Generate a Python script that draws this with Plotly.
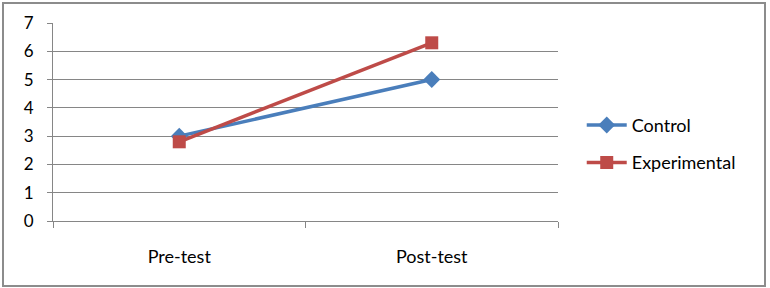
import plotly.graph_objects as go

categories = ["Pre-test", "Post-test"]
control = [3.0, 5.0]
experimental = [2.8, 6.3]
y_ticks = [0, 1, 2, 3, 4, 5, 6, 7]

FONT = "Lato, Carlito, Calibri, sans-serif"
FS = 18

fig = go.Figure()
fig.add_trace(go.Scatter(
    x=[0, 1], y=control, mode="lines+markers", name="Control",
    line=dict(color="#4A7EBB", width=3.5),
    marker=dict(symbol="diamond", size=13, color="#4A7EBB"),
    legendgroup="a",
))
fig.add_trace(go.Scatter(
    x=[0, 1], y=experimental, mode="lines+markers", name="Experimental",
    line=dict(color="#BE4B48", width=3.5),
    marker=dict(symbol="square", size=13, color="#BE4B48"),
    legendgroup="b",
))

fig.update_layout(
    width=770, height=288,
    margin=dict(l=53, r=212, t=23, b=67),
    paper_bgcolor="white", plot_bgcolor="white",
    font=dict(family=FONT, size=FS, color="black"),
    showlegend=True,
    legend=dict(x=1.047, y=0.39, xanchor="left", yanchor="middle",
                tracegroupgap=11, font=dict(size=FS, family=FONT),
                bgcolor="rgba(0,0,0,0)", itemwidth=40),
    xaxis=dict(
        range=[-0.5, 1.5], tickmode="array", tickvals=[0, 1], ticktext=categories,
        showgrid=False, zeroline=False, showline=True, linecolor="#868686", linewidth=1,
        ticks="", ticklabelstandoff=19,
        tickfont=dict(size=FS),
        minor=dict(tickvals=[-0.5, 0.5, 1.5], ticks="outside", ticklen=6, tickcolor="#868686"),
    ),
    yaxis=dict(
        range=[0, 7], tickmode="array", tickvals=y_ticks, ticktext=[str(v) for v in y_ticks],
        showgrid=True, gridcolor="#868686", gridwidth=1, zeroline=False,
        showline=True, linecolor="#868686", linewidth=1,
        ticks="outside", ticklen=5, tickcolor="#868686",
        ticklabelstandoff=10, tickfont=dict(size=17),
    ),
    shapes=[dict(type="rect", xref="paper", yref="paper",
                 x0=-50/505, x1=712/505, y0=-65/198, y1=218/198,
                 line=dict(color="#8C8C8C", width=2), fillcolor="rgba(0,0,0,0)", layer="below")],
)

fig.write_html("out.html")
